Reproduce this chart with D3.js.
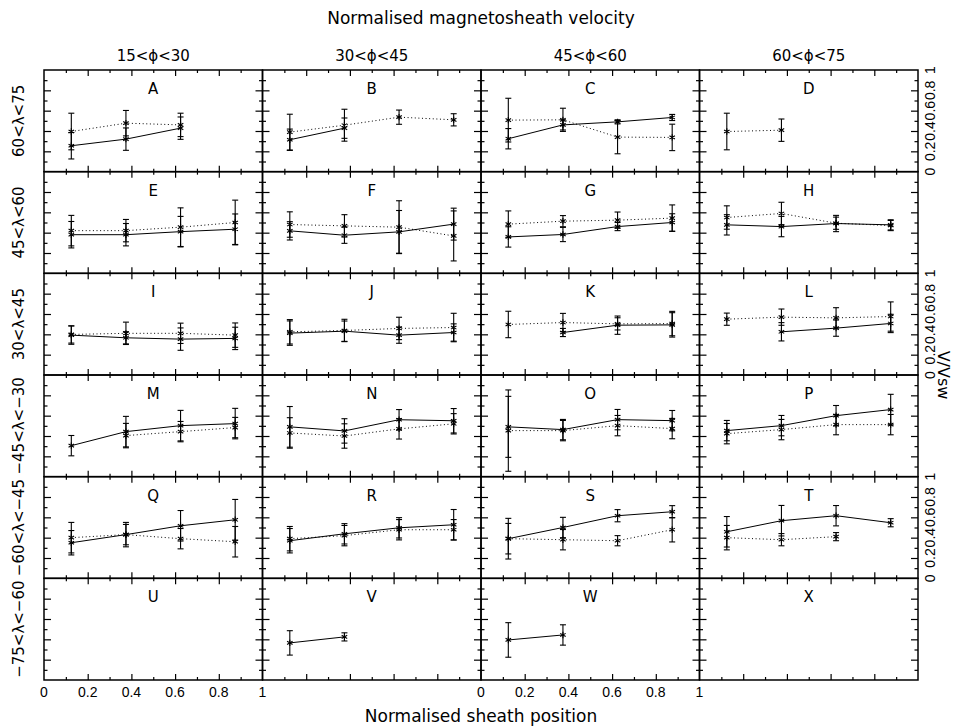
<!DOCTYPE html>
<html>
<head>
<meta charset="utf-8">
<script src="https://cdn.jsdelivr.net/npm/d3@7"></script>
<style>
body { margin: 0; background: #fff; }
text { font-family: "DejaVu Sans", "Liberation Sans", sans-serif; fill: #000; }
text.num { font-family: "Liberation Sans", Arial, sans-serif; }
</style>
</head>
<body>
<div class="canvas"></div>
<script>
// ---- DATA --- //
const title = 'Normalised magnetosheath velocity';
const xTitle = 'Normalised sheath position';
const yTitle = 'V/Vsw';
const colLabels = ['15<ϕ<30', '30<ϕ<45', '45<ϕ<60', '60<ϕ<75'];
const rowLabels = ['60<λ<75', '45<λ<60', '30<λ<45', '−45<λ<−30', '−60<λ<−45', '−75<λ<−60'];
const panelLetters = ['A', 'B', 'C', 'D', 'E', 'F', 'G', 'H', 'I', 'J', 'K', 'L',
    'M', 'N', 'O', 'P', 'Q', 'R', 'S', 'T', 'U', 'V', 'W', 'X'];
const positions = [0.125, 0.375, 0.625, 0.875];
const tickLabels = [0, 0.2, 0.4, 0.6, 0.8, 1];

// solid line series, one row of 4 per panel (null = no point)
const solidVal = [
    [0.255, 0.32, 0.428, null], [0.314, 0.428, null, null], [0.324, 0.46, 0.49, 0.533], [null, null, null, null],
    [0.38, 0.38, 0.41, 0.434], [0.418, 0.375, 0.408, 0.484], [0.358, 0.382, 0.46, 0.5], [0.477, 0.46, 0.49, 0.477],
    [0.392, 0.366, 0.353, 0.36], [0.412, 0.431, 0.392, 0.418], [null, 0.418, 0.49, 0.493], [null, 0.425, 0.461, 0.507],
    [0.305, 0.443, 0.502, 0.522], [0.49, 0.45, 0.56, 0.55], [0.49, 0.463, 0.561, 0.551], [0.453, 0.502, 0.6, 0.66],
    [0.35, 0.43, 0.517, 0.576], [0.37, 0.438, 0.497, 0.527], [0.39, 0.5, 0.616, 0.655], [0.458, 0.567, 0.616, 0.547],
    [null, null, null, null], [0.365, 0.424, null, null], [0.394, 0.443, null, null], [null, null, null, null]
];
const solidErr = [
    [0.13, 0.11, 0.11, null], [0.105, 0.1, null, null], [0.1, 0.05, 0.02, 0.03], [null, null, null, null],
    [0.13, 0.11, 0.15, 0.15], [0.09, 0.08, 0.21, 0.157], [0.1, 0.07, 0.04, 0.086], [0.1, 0.1, 0.08, 0.05],
    [0.09, 0.06, 0.11, 0.11], [0.12, 0.1, 0.08, 0.085], [null, 0.04, 0.09, 0.12], [null, 0.09, 0.08, 0.09],
    [0.1, 0.15, 0.15, 0.15], [0.2, 0.12, 0.1, 0.12], [0.3, 0.1, 0.1, 0.1], [0.1, 0.1, 0.1, 0.15],
    [0.12, 0.1, 0.15, 0.2], [0.12, 0.1, 0.1, 0.15], [0.2, 0.1, 0.06, 0.06], [0.15, 0.15, 0.1, 0.04],
    [null, null, null, null], [0.12, 0.04, null, null], [0.17, 0.1, null, null], [null, null, null, null]
];

// dotted line series
const dottedVal = [
    [0.395, 0.477, 0.46, null], [0.389, 0.457, 0.536, 0.51], [0.507, 0.51, 0.34, 0.337], [0.395, 0.408, null, null],
    [0.42, 0.42, 0.454, 0.5], [0.48, 0.467, 0.454, 0.368], [0.484, 0.513, 0.523, 0.543], [0.549, 0.589, 0.493, 0.47],
    [0.399, 0.41, 0.41, 0.392], [0.425, 0.438, 0.458, 0.467], [0.497, 0.516, 0.503, 0.506], [0.549, 0.569, 0.562, 0.575],
    [null, 0.404, 0.443, 0.483], [0.43, 0.40, 0.47, 0.52], [0.453, 0.453, 0.502, 0.473], [0.423, 0.463, 0.512, 0.512],
    [0.4, 0.43, 0.39, 0.36], [0.39, 0.42, 0.478, 0.478], [0.39, 0.38, 0.37, 0.478], [0.4, 0.38, 0.41, null],
    [null, null, null, null], [null, null, null, null], [null, null, null, null], [null, null, null, null]
];
const dottedErr = [
    [0.18, 0.125, 0.115, null], [0.176, 0.157, 0.07, 0.06], [0.215, 0.114, 0.164, 0.13], [0.18, 0.11, null, null],
    [0.15, 0.11, 0.19, 0.22], [0.125, 0.11, 0.26, 0.246], [0.13, 0.055, 0.08, 0.13], [0.115, 0.11, 0.06, 0.05],
    [0.085, 0.11, 0.1, 0.12], [0.12, 0.11, 0.11, 0.14], [0.13, 0.09, 0.06, 0.12], [0.06, 0.08, 0.1, 0.144],
    [null, 0.12, 0.1, 0.1], [0.15, 0.12, 0.1, 0.1], [0.4, 0.1, 0.1, 0.1], [0.1, 0.1, 0.1, 0.1],
    [0.15, 0.12, 0.1, 0.15], [0.12, 0.1, 0.1, 0.1], [0.15, 0.1, 0.05, 0.12], [0.12, 0.06, 0.04, null],
    [null, null, null, null], [null, null, null, null], [null, null, null, null], [null, null, null, null]
];


// ---- GRAPH CONTAINER SETUP --- //
const width = 957, height = 726;
const nCols = 4, nRows = 6;
const gridLeft = 44, gridRight = 918, gridTop = 70, gridBottom = 680;

const svg = d3.select('.canvas')
    .append('svg')
    .attr('width', width)
    .attr('height', height);

const colScale = d3.scaleLinear().domain([0, nCols]).range([gridLeft, gridRight]);
const rowScale = d3.scaleLinear().domain([0, nRows]).range([gridTop, gridBottom]);
const pw = colScale(1) - colScale(0);
const ph = rowScale(1) - rowScale(0);

const x = d3.scaleLinear().domain([0, 1]).range([0, pw]);
const y = d3.scaleLinear().domain([0, 1]).range([ph, 0]);

const majorTicks = d3.range(0.2, 0.99, 0.2);
const minorTicks = [0.1, 0.3, 0.5, 0.7, 0.9];

const star = d3.symbol().type(d3.symbolAsterisk || d3.symbolTimes).size(28);
const cap = 3;


// ---- TITLES --- //
svg.append('text')
    .attr('x', (gridLeft + gridRight) / 2)
    .attr('y', 24)
    .attr('text-anchor', 'middle')
    .style('font-size', '17px')
    .text(title);

svg.append('text')
    .attr('x', (gridLeft + gridRight) / 2)
    .attr('y', 722)
    .attr('text-anchor', 'middle')
    .style('font-size', '17px')
    .text(xTitle);

svg.append('text')
    .attr('transform', `translate(938, ${(gridTop + gridBottom) / 2}) rotate(90)`)
    .attr('text-anchor', 'middle')
    .style('font-size', '16px')
    .text(yTitle);

colLabels.forEach((c, i) => {
    svg.append('text')
        .attr('x', colScale(i + 0.5))
        .attr('y', 61)
        .attr('text-anchor', 'middle')
        .style('font-size', '15px')
        .text(c);
});

rowLabels.forEach((r, i) => {
    svg.append('text')
        .attr('transform', `translate(24, ${rowScale(i + 0.5)}) rotate(-90)`)
        .attr('text-anchor', 'middle')
        .style('font-size', '15px')
        .text(r);
});


// ---- PANELS --- //
const line = d3.line()
    .defined(d => d.v !== null)
    .x(d => x(d.p))
    .y(d => y(d.v));

panelLetters.forEach((letter, k) => {
    const col = k % nCols;
    const row = Math.floor(k / nCols);

    const g = svg.append('g')
        .attr('transform', `translate(${colScale(col)},${rowScale(row)})`);

    // frame
    g.append('rect')
        .attr('width', pw)
        .attr('height', ph)
        .attr('fill', 'none')
        .attr('stroke', '#000')
        .attr('stroke-width', 1.5);

    // ticks on all sides, pointing inward
    const tickGroups = [
        [d3.axisBottom(x), `translate(0,${ph})`],
        [d3.axisTop(x), 'translate(0,0)'],
        [d3.axisLeft(y), 'translate(0,0)'],
        [d3.axisRight(y), `translate(${pw},0)`]
    ];
    tickGroups.forEach(([axis, tr], j) => {
        const len = j < 2 ? 6 : 7;
        g.append('g').attr('transform', tr)
            .call(axis.tickValues(majorTicks).tickSize(-len).tickFormat(''))
            .call(a => a.select('.domain').remove());
        g.append('g').attr('transform', tr)
            .call(axis.tickValues(minorTicks).tickSize(-len / 2).tickFormat(''))
            .call(a => a.select('.domain').remove());
    });
    g.selectAll('.tick line').attr('stroke', '#000').attr('stroke-width', 1.2);

    // panel letter
    g.append('text')
        .attr('x', x(0.5))
        .attr('y', 24)
        .attr('text-anchor', 'middle')
        .style('font-size', '15px')
        .text(letter);

    // series
    const series = [
        { vals: solidVal[k], errs: solidErr[k], dash: null },
        { vals: dottedVal[k], errs: dottedErr[k], dash: '1,2.6' }
    ];
    series.forEach(s => {
        const pts = positions.map((p, i) => ({ p: p, v: s.vals[i], e: s.errs[i] }));
        const valid = pts.filter(d => d.v !== null);

        g.append('path')
            .datum(valid)
            .attr('d', line)
            .attr('fill', 'none')
            .attr('stroke', '#000')
            .attr('stroke-width', 1)
            .attr('stroke-dasharray', s.dash);

        const eb = g.selectAll(null)
            .data(valid)
            .enter()
            .append('g')
            .attr('stroke', '#000')
            .attr('stroke-width', 1.1);
        eb.append('line')
            .attr('x1', d => x(d.p)).attr('x2', d => x(d.p))
            .attr('y1', d => y(d.v - d.e)).attr('y2', d => y(d.v + d.e));
        eb.append('line')
            .attr('x1', d => x(d.p) - cap).attr('x2', d => x(d.p) + cap)
            .attr('y1', d => y(d.v - d.e)).attr('y2', d => y(d.v - d.e));
        eb.append('line')
            .attr('x1', d => x(d.p) - cap).attr('x2', d => x(d.p) + cap)
            .attr('y1', d => y(d.v + d.e)).attr('y2', d => y(d.v + d.e));
        eb.append('path')
            .attr('transform', d => `translate(${x(d.p)},${y(d.v)})`)
            .attr('d', star)
            .attr('fill', 'none');
    });

    // x tick labels under bottom row, columns 1 and 3
    if (row === nRows - 1 && col % 2 === 0) {
        g.selectAll(null)
            .data(tickLabels)
            .enter()
            .append('text')
            .attr('class', 'num')
            .attr('x', d => x(d))
            .attr('y', ph + 17)
            .attr('text-anchor', 'middle')
            .style('font-size', '14px')
            .text(d => d3.format('')(d));
    }

    // y tick labels on the right of rows 1, 3, 5
    if (col === nCols - 1 && row % 2 === 0) {
        g.selectAll(null)
            .data(tickLabels)
            .enter()
            .append('text')
            .attr('class', 'num')
            .attr('transform', d => `translate(${pw + 17},${y(d)}) rotate(-90)`)
            .attr('text-anchor', 'middle')
            .style('font-size', '14px')
            .text(d => d3.format('')(d));
    }
});
</script>
</body>
</html>
